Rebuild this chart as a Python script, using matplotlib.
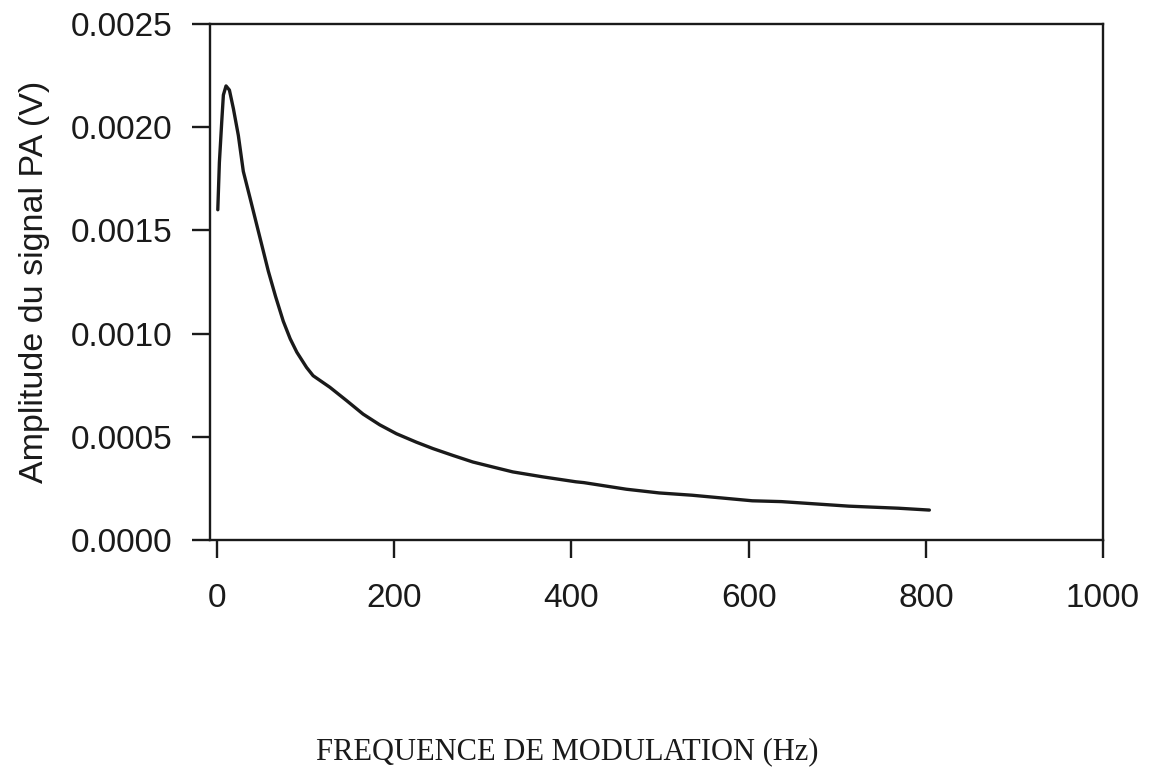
import matplotlib
matplotlib.use("Agg")
import matplotlib.pyplot as plt

# Data
freq_hz = [0.8, 2.6, 5.3, 7.1, 10.1, 13.9, 18.4, 24, 29.6, 37.2, 44.7, 50.3,
           57.8, 66, 74.7, 82.5, 90, 101, 108.4, 127.3, 146, 164.8, 183.6,
           202.4, 224.9, 243.6, 266, 288.6, 311, 333.7, 367.5, 405, 414, 462,
           499, 536, 604, 637, 713, 769, 804]
amplitude_v = [0.00160, 0.00183, 0.00203, 0.002156, 0.00220, 0.00218, 0.00209,
               0.00196, 0.001786, 0.001657, 0.001528, 0.001432, 0.001303,
               0.00118, 0.00106, 0.000975, 0.00091, 0.000836, 0.000796,
               0.00074, 0.000676, 0.000610, 0.000558, 0.000515, 0.000474,
               0.000443, 0.00041, 0.000378, 0.000354, 0.00033, 0.000306,
               0.000282, 0.000278, 0.000246, 0.000228, 0.000217, 0.00019,
               0.000186, 0.000164, 0.000154, 0.000145]

x_ticks = [0, 200, 400, 600, 800, 1000]
y_ticks = [0.0000, 0.0005, 0.0010, 0.0015, 0.0020, 0.0025]

fig = plt.figure(figsize=(11.6, 7.69), dpi=100)
ax = fig.add_axes([210/1160, 1 - 540/769, (1103-210)/1160, (540-24)/769])

ax.plot(freq_hz, amplitude_v, color="#1a1a1a", lw=2.4,
        solid_joinstyle="round", solid_capstyle="round")

ax.set_xlim(-8, 1000)
ax.set_ylim(0, 0.0025)
ax.set_xticks(x_ticks)
ax.set_yticks(y_ticks)
ax.set_yticklabels([f"{v:.4f}" for v in y_ticks])
ax.set_xticklabels([str(v) for v in x_ticks])

for s in ax.spines.values():
    s.set_linewidth(1.7)
    s.set_color("#1a1a1a")

ax.tick_params(axis="y", direction="out", length=13, width=1.7, pad=14,
               labelsize=24, colors="#1a1a1a")
ax.tick_params(axis="x", direction="out", length=13, width=1.7, pad=18,
               labelsize=24, colors="#1a1a1a")
for lab in ax.get_xticklabels() + ax.get_yticklabels():
    lab.set_family("Liberation Sans")

fig.text(35/1160, 1 - 282/769, "Amplitude du signal PA (V)", rotation=90,
         ha="center", va="center", fontsize=24.5, family="Liberation Sans",
         color="#1a1a1a")
fig.text(567/1160, 1 - 752/769, "FREQUENCE DE MODULATION (Hz)",
         ha="center", va="center", fontsize=22, family="Liberation Serif",
         color="#1a1a1a")

fig.savefig("out.png", dpi=100, facecolor="white")
